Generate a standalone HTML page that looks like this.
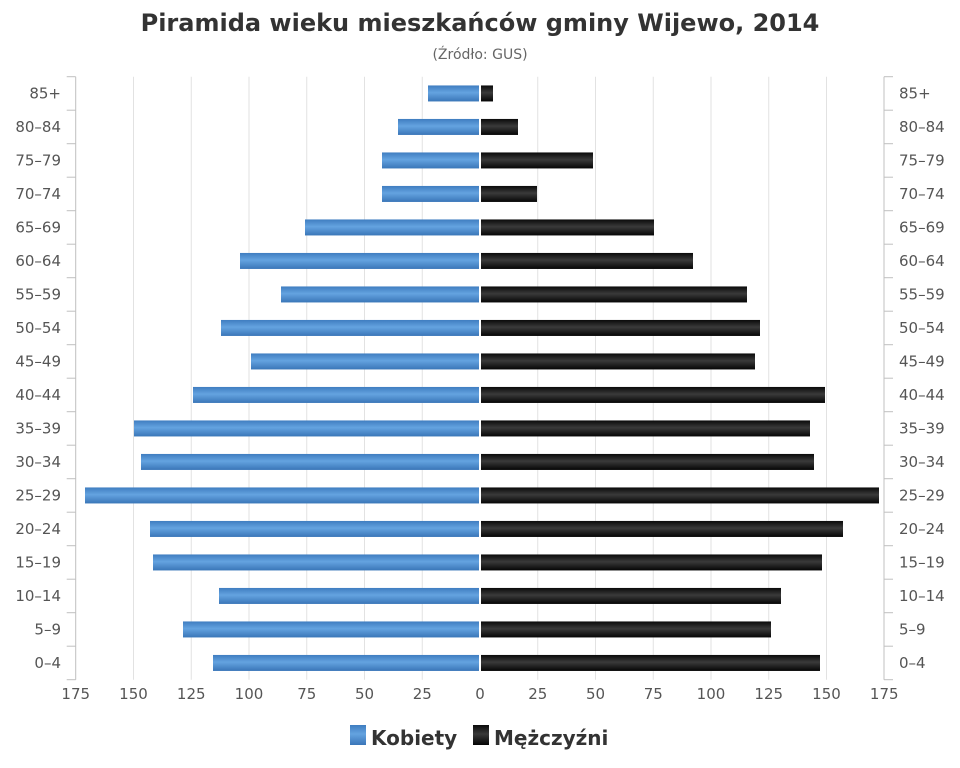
<!DOCTYPE html>
<html><head><meta charset="utf-8"><style>
html,body{margin:0;padding:0;background:#fff;}
svg{display:block;font-family:"DejaVu Sans","Liberation Sans",sans-serif;}
</style></head><body>
<svg width="960" height="768" viewBox="0 0 960 768" xmlns="http://www.w3.org/2000/svg">
<defs>
<linearGradient id="gb" x1="0" y1="0" x2="0" y2="1">
<stop offset="0" stop-color="#3f7dc0"/><stop offset="0.45" stop-color="#64a3e0"/><stop offset="1" stop-color="#3a76b8"/>
</linearGradient>
<linearGradient id="gk" x1="0" y1="0" x2="0" y2="1">
<stop offset="0" stop-color="#0a0a0a"/><stop offset="0.45" stop-color="#3a3a3a"/><stop offset="1" stop-color="#050505"/>
</linearGradient>
</defs>
<text x="480" y="31" text-anchor="middle" font-size="24" font-weight="bold" fill="#333">Piramida wieku mieszkańców gminy Wijewo, 2014</text>
<text x="480" y="59" text-anchor="middle" font-size="14" fill="#666">(Źródło: GUS)</text>
<g id="grid" stroke="#e2e2e2" stroke-width="1"></g>
<g id="bars"></g>
<g id="axes" stroke="#c0c0c0" stroke-width="1" fill="none"></g>
<g id="labels" font-size="15" fill="#555"></g>
<rect x="350" y="725" width="16" height="20" fill="url(#gb)"/>
<text x="371" y="745" font-size="20" font-weight="bold" fill="#333">Kobiety</text>
<rect x="473" y="725" width="16" height="20" fill="url(#gk)"/>
<text x="494" y="745" font-size="20" font-weight="bold" fill="#333">Mężczyźni</text>
</svg>
<script>
(function(){
var ns="http://www.w3.org/2000/svg";
function el(p,t,a,txt){var e=document.createElementNS(ns,t);for(var k in a)e.setAttribute(k,a[k]);if(txt!==undefined)e.textContent=txt;document.getElementById(p).appendChild(e);return e;}
var cats=["85+","80-84","75-79","70-74","65-69","60-64","55-59","50-54","45-49","40-44","35-39","30-34","25-29","20-24","15-19","10-14","5-9","0-4"];
var fL=[428,398,382,382,305,240,281,221,251,193,134,141,85,150,153,219,183,213];
var mR=[493,518,593,537,654,693,747,760,755,825,810,814,879,843,822,781,771,820];
var T0=76.7,band=33.5,bot=679.7,s=2.31,z=480;
for(var v=-175;v<=175;v+=25){var x=z+v*s;if(v!==0&&Math.abs(v)!==175)el("grid","line",{x1:x,y1:T0,x2:x,y2:bot});
el("labels","text",{x:x,y:699,"text-anchor":"middle"},String(Math.abs(v)));}
for(var i=0;i<18;i++){var cy=T0+band*(i+0.5);
el("bars","rect",{x:fL[i],y:cy-8,width:479-fL[i],height:16,fill:"url(#gb)"});
el("bars","rect",{x:481,y:cy-8,width:mR[i]-481,height:16,fill:"url(#gk)"});
el("labels","text",{x:61,y:cy+5,"text-anchor":"end"},cats[i].replace("-","–"));
el("labels","text",{x:899,y:cy+5},cats[i].replace("-","–"));}
var L=75.7,R=884;
el("axes","line",{x1:L,y1:T0,x2:L,y2:bot});el("axes","line",{x1:R,y1:T0,x2:R,y2:bot});
for(var j=0;j<=18;j++){var y=T0+band*j;el("axes","line",{x1:L-9,y1:y,x2:L,y2:y});el("axes","line",{x1:R,y1:y,x2:R+9,y2:y});}
})();
</script>
</body></html>
